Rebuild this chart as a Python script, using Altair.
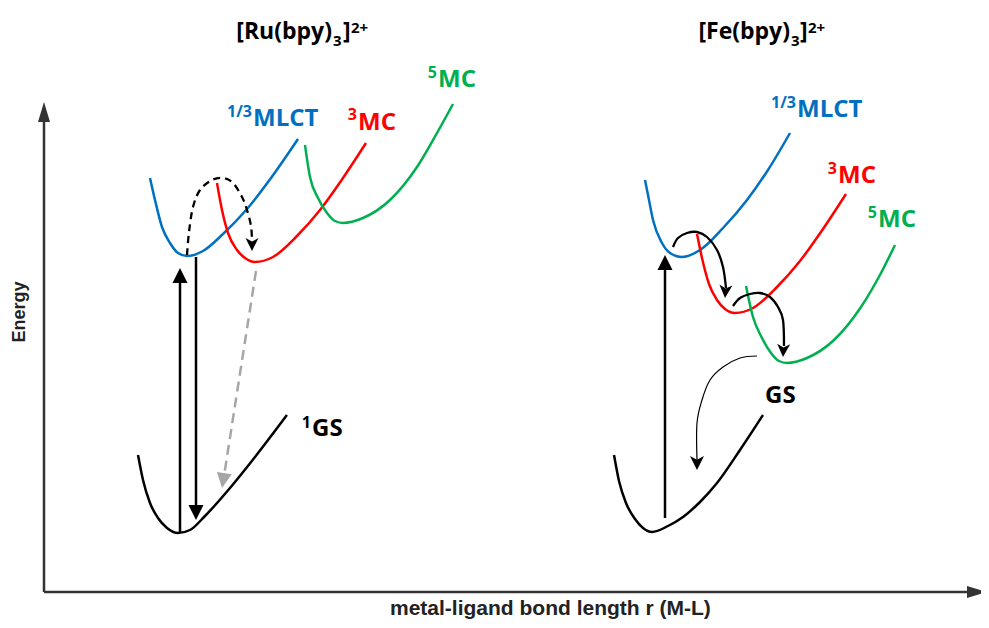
import altair as alt
import pandas as pd

# ---------------- data (page pixels: x right, y down) -------------
# potential-energy curves
gs_ru_x = [138, 143, 150, 158, 167, 178, 190, 205, 230, 255, 287]
gs_ru_y = [455, 480, 503, 518, 528, 533, 530, 516, 488, 457, 415]
mlct_ru_x = [150, 155, 162, 170, 178, 187, 203, 223, 247, 271, 298]
mlct_ru_y = [178, 200, 227, 243, 253, 256, 251, 234, 209, 178, 139]
mc3_ru_x = [217, 222, 228, 237, 245, 255, 273, 297, 320, 343, 366]
mc3_ru_y = [183, 210, 233, 250, 258, 262, 257, 236, 210, 178, 143]
mc5_ru_x = [305, 310, 318, 327, 335, 343, 363, 390, 417, 437, 453]
mc5_ru_y = [145, 177, 198, 213, 221, 223, 218, 200, 167, 133, 104]

gs_fe_x = [614, 619, 626, 635, 643, 652, 668, 683, 700, 717, 740, 763]
gs_fe_y = [455, 481, 503, 519, 528, 532, 526, 517, 502, 483, 450, 415]
mlct_fe_x = [645, 649, 653, 662, 670, 682, 700, 723, 747, 768, 790]
mlct_fe_y = [180, 200, 220, 243, 253, 257, 250, 228, 200, 170, 133]
mc3_fe_x = [697, 702, 709, 717, 725, 735, 753, 777, 800, 823, 846]
mc3_fe_y = [234, 258, 284, 300, 309, 313, 308, 287, 261, 229, 194]
mc5_fe_x = [746, 753, 762, 771, 779, 787, 807, 834, 861, 881, 895]
mc5_fe_y = [286, 317, 338, 353, 361, 363, 358, 340, 307, 273, 245]

# transition arrows (shafts)
ru_up_x, ru_up_y = [180, 180], [532, 281]
ru_down_x, ru_down_y = [196, 196], [257, 507]
ru_arc_x = [187, 189, 193, 200, 212, 223, 233, 242, 247, 251, 252]
ru_arc_y = [255, 232, 207, 190, 180, 178, 183, 197, 210, 226, 241]
ru_gray_x, ru_gray_y = [256, 224], [271, 476]
fe_up_x, fe_up_y = [665, 665], [518, 268]
fe_hop1_x = [673, 678, 687, 697, 707, 717, 723, 726]
fe_hop1_y = [247, 238, 233, 232, 237, 250, 267, 288]
fe_hop2_x = [733, 740, 750, 760, 770, 778, 783, 784]
fe_hop2_y = [306, 298, 294, 293, 297, 307, 320, 346]
fe_relax_x = [757, 740, 723, 710, 702, 697, 697]
fe_relax_y = [356, 358, 367, 380, 400, 423, 460]

# axes
yaxis_x, yaxis_y = [44, 44], [592, 118]
xaxis_x, xaxis_y = [44, 972], [592, 592]

# arrow heads: tip position, direction (deg, clockwise from up), size, kind
head_x = [180, 196, 252, 222, 665, 725, 783, 697, 44, 987]
head_y = [268, 520, 251, 488, 255, 298, 357, 470, 102, 592]
head_angle = [0, 180, 180, 189, 0, 184, 183, 180, 0, 90]
head_size = [225, 225, 169, 225, 225, 169, 169, 196, 400, 400]
head_kind = ["tri", "tri", "notch", "tri", "tri", "notch", "notch", "notch", "slim", "slim"]
head_color = ["#000000"] * 3 + ["#A6A6A6"] + ["#000000"] * 4 + ["#333333"] * 2

# labels
lab_text = ["MLCT", "MC", "MC", "GS", "MLCT", "MC", "MC", "GS", "[Ru(bpy)", "]", "[Fe(bpy)", "]"]
lab_x = [253, 358, 438, 312, 797, 838, 878, 765, 332, 343, 790, 800]
lab_y = [126, 130, 87, 436, 117, 183, 227, 403, 39, 39, 39, 39]
lab_size = [24, 24, 24, 24, 24, 24, 24, 24, 23, 23, 23, 23]
lab_align = ["left"] * 8 + ["right", "left", "right", "left"]
lab_color = ["#0070C0", "#FF0000", "#00B050", "#000000",
             "#0070C0", "#FF0000", "#00B050", "#000000",
             "#000000", "#000000", "#000000", "#000000"]

sup_text = ["1/3", "3", "5", "1", "1/3", "3", "5", "3", "2+", "3", "2+"]
sup_x = [252, 357, 437, 311, 796, 837, 877, 333, 351, 791, 808]
sup_y = [117, 120, 78, 428, 108, 174, 218, 46, 33, 46, 33]
sup_size = [16, 16, 16, 16, 16, 16, 16, 15, 15, 15, 15]
sup_align = ["right"] * 7 + ["left"] * 4
sup_color = ["#0070C0", "#FF0000", "#00B050", "#000000",
             "#0070C0", "#FF0000", "#00B050",
             "#000000", "#000000", "#000000", "#000000"]

energy_label = "Energy"
energy_x, energy_y = 20, 312
xlabel = "metal-ligand bond length r (M-L)"
xlabel_x, xlabel_y = 390, 615

# ---------------------------------------------------------------------------------------
def series(name, xs, ys, color):
    return [{"id": name, "i": i, "x": x, "y": y, "c": color}
            for i, (x, y) in enumerate(zip(xs, ys))]

BLUE, RED, GREEN, BLACK = "#0070C0", "#FF0000", "#00B050", "#000000"

curves = pd.DataFrame(
    series("gs_ru", gs_ru_x, gs_ru_y, BLACK) + series("mlct_ru", mlct_ru_x, mlct_ru_y, BLUE)
    + series("mc3_ru", mc3_ru_x, mc3_ru_y, RED) + series("mc5_ru", mc5_ru_x, mc5_ru_y, GREEN)
    + series("gs_fe", gs_fe_x, gs_fe_y, BLACK) + series("mlct_fe", mlct_fe_x, mlct_fe_y, BLUE)
    + series("mc3_fe", mc3_fe_x, mc3_fe_y, RED) + series("mc5_fe", mc5_fe_x, mc5_fe_y, GREEN)
)
straight = pd.DataFrame(
    series("ru_up", ru_up_x, ru_up_y, BLACK) + series("ru_down", ru_down_x, ru_down_y, BLACK)
    + series("fe_up", fe_up_x, fe_up_y, BLACK)
)
axes_df = pd.DataFrame(
    series("yaxis", yaxis_x, yaxis_y, "#333333") + series("xaxis", xaxis_x, xaxis_y, "#333333")
)
bent = pd.DataFrame(series("hop1", fe_hop1_x, fe_hop1_y, BLACK) + series("hop2", fe_hop2_x, fe_hop2_y, BLACK))
relax = pd.DataFrame(series("relax", fe_relax_x, fe_relax_y, BLACK))
arc = pd.DataFrame(series("arc", ru_arc_x, ru_arc_y, BLACK))
gray = pd.DataFrame(series("gray", ru_gray_x, ru_gray_y, "#A6A6A6"))

SHAPES = {
    "tri": "M0,0L-1,2L1,2Z",
    "notch": "M0,0L-1,2L0,1.45L1,2Z",
    "slim": "M0,0L-0.6,2L0.6,2Z",
}
heads = pd.DataFrame({
    "x": head_x, "y": head_y, "angle": head_angle, "size": head_size,
    "shape": [SHAPES[k] for k in head_kind], "c": head_color,
})
labels = pd.DataFrame({"x": lab_x, "y": lab_y, "t": lab_text, "s": lab_size,
                       "a": lab_align, "c": lab_color})
sups = pd.DataFrame({"x": sup_x, "y": sup_y, "t": sup_text, "s": sup_size,
                     "a": sup_align, "c": sup_color})
ax_text = pd.DataFrame({"x": [xlabel_x], "y": [xlabel_y], "t": [xlabel]})
en_text = pd.DataFrame({"x": [energy_x], "y": [energy_y], "t": [energy_label]})

X = alt.X("x:Q", scale=alt.Scale(domain=[8, 981], nice=False, zero=False), axis=None)
Y = alt.Y("y:Q", scale=alt.Scale(domain=[8, 620], reverse=True, nice=False, zero=False), axis=None)
C = alt.Color("c:N", scale=None)


def lines(df, interp, width, dash=None):
    kw = dict(strokeWidth=width, interpolate=interp)
    if dash:
        kw["strokeDash"] = dash
    return alt.Chart(df).mark_line(**kw).encode(x=X, y=Y, color=C, detail="id:N", order="i:Q")


def texts(df, align, font, weight="bold"):
    return alt.Chart(df).mark_text(align=align, font=font, fontWeight=weight,
                                   baseline="alphabetic").encode(
        x=X, y=Y, text="t:N", size=alt.Size("s:Q", scale=None), color=C)


layers = [
    lines(axes_df, "linear", 2.5),
    lines(curves, "monotone", 2.5),
    lines(straight, "linear", 2.5),
    lines(arc, "cardinal", 2.3, [7, 5]),
    lines(gray, "linear", 2.5, [10, 6]),
    lines(bent, "cardinal", 2.3),
    lines(relax, "cardinal", 1.2),
    alt.Chart(heads).mark_point(filled=True, opacity=1, strokeWidth=0).encode(
        x=X, y=Y, color=C,
        shape=alt.Shape("shape:N", scale=None),
        size=alt.Size("size:Q", scale=None),
        angle=alt.Angle("angle:Q", scale=None)),
    texts(labels[labels.a == "left"], "left", "Open Sans"),
    texts(labels[labels.a == "right"], "right", "Open Sans"),
    texts(sups[sups.a == "left"], "left", "Open Sans"),
    texts(sups[sups.a == "right"], "right", "Open Sans"),
    alt.Chart(ax_text).mark_text(align="left", baseline="alphabetic", font="Liberation Sans",
                                 fontWeight="bold", fontSize=21, color="#222222").encode(x=X, y=Y, text="t:N"),
    alt.Chart(en_text).mark_text(align="center", baseline="middle", font="Liberation Sans",
                                 fontWeight="bold", fontSize=18, angle=270, color="#222222").encode(x=X, y=Y, text="t:N"),
]

chart = alt.layer(*layers).properties(
    width=973, height=612, padding=0, background="white",
    autosize=alt.AutoSizeParams(type="none"),
).configure_view(stroke=None)

chart.save("out.html", embed_options={"renderer": "svg", "actions": False})
